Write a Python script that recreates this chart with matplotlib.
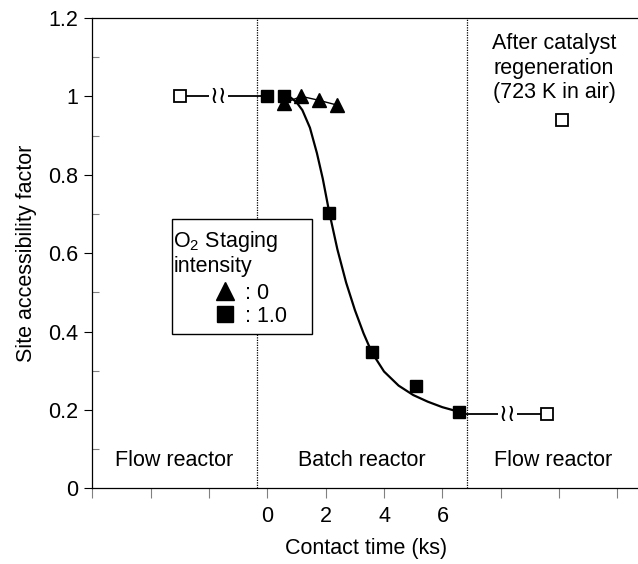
import numpy as np
import matplotlib
matplotlib.use('Agg')
import matplotlib.pyplot as plt
from matplotlib.lines import Line2D
from matplotlib.patches import Rectangle
from matplotlib.ticker import MultipleLocator, FixedLocator

plt.rcParams['font.family'] = ['Liberation Sans', 'DejaVu Sans']
plt.rcParams['font.size'] = 15.5
plt.rcParams['mathtext.fontset'] = 'custom'
plt.rcParams['mathtext.rm'] = 'Liberation Sans'

# data (contact time in ks, site accessibility factor)
flow_in_x = [-3.0]
flow_in_y = [1.0]
stage0_x = [0.57, 1.17, 1.77, 2.38]
stage0_y = [0.983, 1.0, 0.99, 0.978]
stage1_x = [0.0, 0.57, 2.12, 3.58, 5.10, 6.58]
stage1_y = [1.0, 1.0, 0.703, 0.347, 0.262, 0.195]
fit_x = [0.57, 0.8, 1.0, 1.2, 1.46, 1.7, 1.9, 2.12, 2.4, 2.7, 3.0, 3.3, 3.58,
         4.0, 4.5, 5.0, 5.5, 6.0, 6.58]
fit_y = [1.0, 0.997, 0.985, 0.965, 0.92, 0.855, 0.79, 0.705, 0.61, 0.525, 0.455,
         0.395, 0.347, 0.298, 0.262, 0.238, 0.221, 0.207, 0.195]
flow_out_x = [9.58]
flow_out_y = [0.19]
regen_x = [10.1]
regen_y = [0.94]
boundaries = [-0.35, 6.85]
xtick_pos = [-6, -4, -2, 0, 2, 4, 6, 8, 10, 12]
xtick_lab = ['', '', '', '0', '2', '4', '6', '', '', '']
ytick_pos = [0, 0.2, 0.4, 0.6, 0.8, 1.0, 1.2]
ytick_lab = ['0', '0.2', '0.4', '0.6', '0.8', '1', '1.2']

fig = plt.figure(figsize=(6.38, 5.64), dpi=100)
ax = fig.add_axes([0.1447, 0.1342, 0.8596, 0.8339])

# connector lines between flow and batch data, with axis-break marks
ax.plot([flow_in_x[0], stage1_x[0]], [flow_in_y[0], stage1_y[0]], color='black', lw=1.3, zorder=2)
ax.plot([stage1_x[-1], flow_out_x[0]], [flow_out_y[0], flow_out_y[0]], color='black', lw=1.3, zorder=2)
for bx, by in [(-1.68, flow_in_y[0]), (8.23, flow_out_y[0])]:
    ax.text(bx, by, '\u2240\u2240', ha='center', va='center', fontsize=17,
            family='DejaVu Sans', zorder=3,
            bbox=dict(facecolor='white', edgecolor='none', pad=0.5))

for b in boundaries:
    ax.plot([b, b], [0, 1.2], color='black', lw=0.9, ls=(0, (1, 1)), zorder=1)

ax.plot(fit_x, fit_y, color='black', lw=1.6, zorder=3)
ax.plot(stage0_x, stage0_y, color='black', lw=1.0, marker='^', ms=10, zorder=4)
ax.plot(stage1_x, stage1_y, ls='none', marker='s', ms=9, color='black', zorder=5)
for xs, ys in [(flow_in_x, flow_in_y), (flow_out_x, flow_out_y), (regen_x, regen_y)]:
    ax.plot(xs, ys, ls='none', marker='s', ms=9, mfc='white', mec='black', mew=1.3, zorder=5)

ax.text(-3.2, 0.072, 'Flow reactor', ha='center', va='center')
ax.text(3.25, 0.072, 'Batch reactor', ha='center', va='center')
ax.text(9.8, 0.072, 'Flow reactor', ha='center', va='center')
ax.text(9.83, 1.072, 'After catalyst\nregeneration\n(723 K in air)', ha='center', va='center')

# legend box
ax.add_patch(Rectangle((0.1448, 0.3281), 0.2553, 0.2439, transform=ax.transAxes,
                       facecolor='white', edgecolor='black', lw=1.0, zorder=6))
ax.text(0.1465, 0.5243, '$\\mathregular{O_2}$ Staging', transform=ax.transAxes,
        ha='left', va='center', zorder=7)
ax.text(0.1490, 0.4712, 'intensity', transform=ax.transAxes,
        ha='left', va='center', zorder=7)
handles = [Line2D([], [], ls='none', marker='^', ms=13, color='black'),
           Line2D([], [], ls='none', marker='s', ms=12, color='black')]
leg = ax.legend(handles, [': 0', ': 1.0'], loc='center left',
                bbox_to_anchor=(0.2228, 0.390), frameon=False,
                handlelength=1.0, handletextpad=0.4, borderpad=0,
                borderaxespad=0, labelspacing=0.1)
leg.set_zorder(8)

ax.set_xlim(-6, 12.8)
ax.set_ylim(0, 1.2)
ax.xaxis.set_major_locator(FixedLocator(xtick_pos))
ax.set_xticklabels(xtick_lab)
ax.set_yticks(ytick_pos)
ax.set_yticklabels(ytick_lab)
ax.yaxis.set_minor_locator(MultipleLocator(0.1))
ax.tick_params(axis='y', which='major', direction='out', length=6, width=0.8, pad=4)
ax.tick_params(axis='y', which='minor', direction='in', length=5, width=0.8, color='gray')
ax.tick_params(axis='x', which='major', direction='out', length=7, width=0.8, color='gray', pad=6)
ax.spines['right'].set_visible(False)
for s in ['left', 'bottom', 'top']:
    ax.spines[s].set_linewidth(0.9)

ax.set_xlabel('Contact time (ks)', labelpad=8)
ax.set_ylabel('Site accessibility factor', labelpad=8)

fig.savefig('out.png', dpi=100)
